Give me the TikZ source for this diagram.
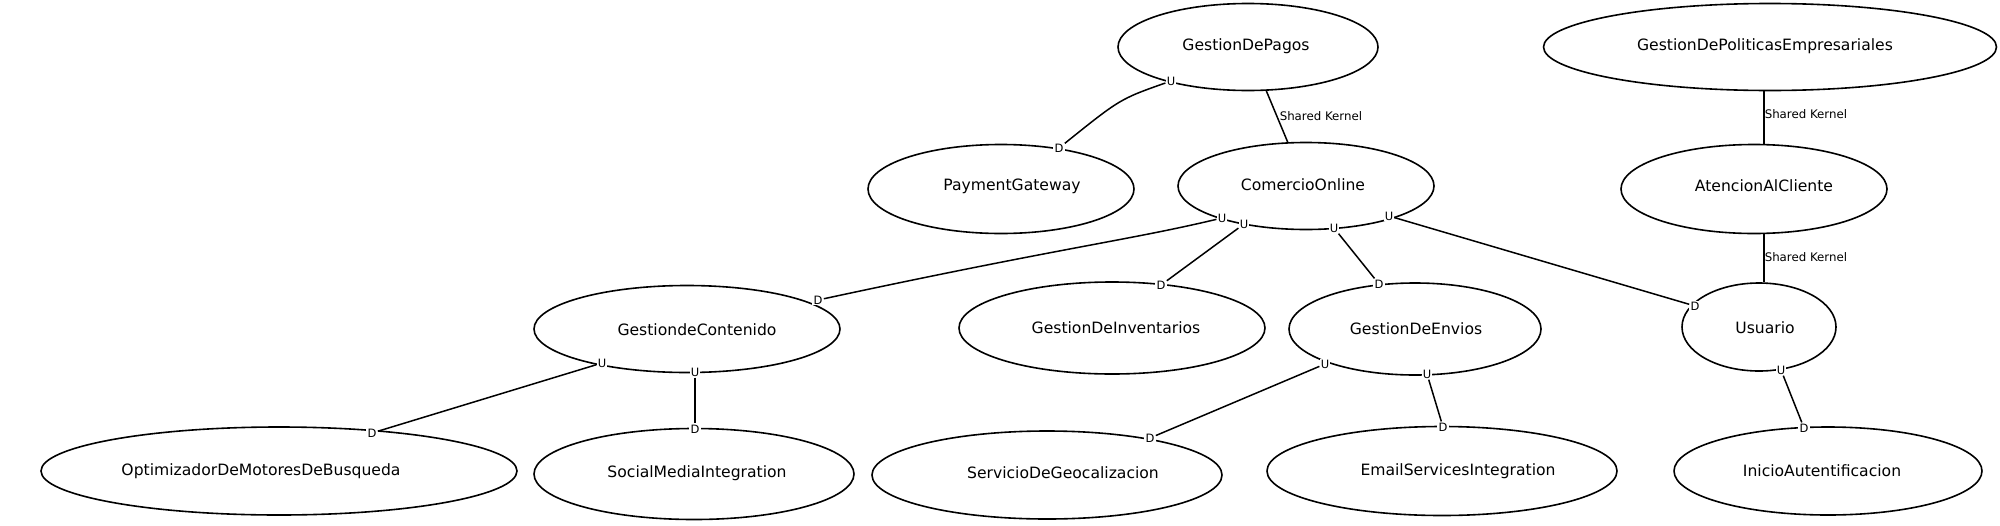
\documentclass[tikz,border=0pt]{standalone}
\usepackage{fontspec}
\setmainfont{DejaVu Sans}
\usetikzlibrary{shapes.geometric}
\begin{document}
\begin{tikzpicture}[x=1pt,y=-1pt,
  ctx/.style={ellipse, draw, line width=1.6pt, inner sep=0pt},
  txt/.style={inner sep=0pt, font=\fontsize{15.6}{18}\selectfont},
  ud/.style={fill=white, inner sep=1.2pt, font=\fontsize{11.5}{13}\selectfont},
  rel/.style={line width=1.5pt},
  sk/.style={font=\fontsize{11.8}{14}\selectfont, anchor=west, inner sep=0pt}]
\useasboundingbox[fill=white] (0,0) rectangle (2000,525);

% contexts
\node[ctx, minimum width=260pt, minimum height=87pt, label={[txt, xshift=-2pt, yshift=1pt]center:GestionDePagos}] (pagos) at (1248,47) {};
\node[ctx, minimum width=453pt, minimum height=87pt, label={[txt, xshift=-5pt, yshift=1pt]center:GestionDePoliticasEmpresariales}] (pol) at (1770,47) {};
\node[ctx, minimum width=266pt, minimum height=89pt, label={[txt, xshift=11pt, yshift=3pt]center:PaymentGateway}] (pay) at (1001,189) {};
\node[ctx, minimum width=256pt, minimum height=87pt, label={[txt, xshift=-3pt, yshift=1pt]center:ComercioOnline}] (com) at (1306,186) {};
\node[ctx, minimum width=266pt, minimum height=89pt, label={[txt, xshift=10pt, yshift=3pt]center:AtencionAlCliente}] (aten) at (1754,189) {};
\node[ctx, minimum width=306pt, minimum height=87pt, label={[txt, xshift=10pt, yshift=-1pt]center:GestiondeContenido}] (cont) at (687,329) {};
\node[ctx, minimum width=306pt, minimum height=92pt, label={[txt, xshift=4pt]center:GestionDeInventarios}] (inv) at (1112,328) {};
\node[ctx, minimum width=252pt, minimum height=92pt, label={[txt, xshift=1pt]center:GestionDeEnvios}] (env) at (1415,329) {};
\node[ctx, minimum width=154pt, minimum height=88pt, label={[txt, xshift=6pt, yshift=-1pt]center:Usuario}] (usu) at (1759,327) {};
\node[ctx, minimum width=476pt, minimum height=88pt, label={[txt, xshift=-18pt]center:OptimizadorDeMotoresDeBusqueda}] (opt) at (279,471) {};
\node[ctx, minimum width=320pt, minimum height=91pt, label={[txt, xshift=3pt, yshift=1pt]center:SocialMediaIntegration}] (soc) at (694,474) {};
\node[ctx, minimum width=350pt, minimum height=88pt, label={[txt, xshift=16pt, yshift=2pt]center:ServicioDeGeocalizacion}] (geo) at (1047,475) {};
\node[ctx, minimum width=350pt, minimum height=89pt, label={[txt, xshift=16pt]center:EmailServicesIntegration}] (mail) at (1442,471) {};
\node[ctx, minimum width=308pt, minimum height=88pt, label={[txt, xshift=-6pt]center:InicioAutentificacion}] (ini) at (1828,471) {};

% U / D markers
\node[ud] (pagosU) at (1171,81) {U};
\node[ud] (payD) at (1059,148) {D};
\node[ud] (comU1) at (1222,218) {U};
\node[ud] (comU2) at (1244,224) {U};
\node[ud] (comU3) at (1334,228) {U};
\node[ud] (comU4) at (1389,216) {U};
\node[ud] (contD) at (818,300) {D};
\node[ud] (invD) at (1161,285) {D};
\node[ud] (envD) at (1379,284) {D};
\node[ud] (usuD) at (1695,306) {D};
\node[ud] (contU1) at (602,363) {U};
\node[ud] (contU2) at (695,372) {U};
\node[ud] (optD) at (372,433) {D};
\node[ud] (socD) at (695,429) {D};
\node[ud] (envU1) at (1325,364) {U};
\node[ud] (envU2) at (1427,374) {U};
\node[ud] (geoD) at (1150,438) {D};
\node[ud] (mailD) at (1443,427) {D};
\node[ud] (usuU) at (1781,370) {U};
\node[ud] (iniD) at (1804,428) {D};

% relations
\draw[rel] (pagosU) .. controls (1120,99) .. (payD);
\draw[rel] (pagos) -- (com) node[sk, midway, xshift=2pt] {Shared Kernel};
\draw[rel] (comU1) .. controls (1130,240) and (1060,248) .. (contD);
\draw[rel] (comU2) -- (invD);
\draw[rel] (comU3) -- (envD);
\draw[rel] (comU4) -- (usuD);
\draw[rel] (contU1) -- (optD);
\draw[rel] (contU2) -- (socD);
\draw[rel] (envU1) -- (geoD);
\draw[rel] (envU2) -- (mailD);
\draw[rel] (usuU) -- (iniD);
\coordinate (skx) at (1764,0);
\draw[rel] (pol.south -| skx) -- (aten.north -| skx) node[sk, midway, yshift=3pt] {Shared Kernel};
\draw[rel] (aten.south -| skx) -- (usu.north -| skx) node[sk, midway, yshift=1pt] {Shared Kernel};
\end{tikzpicture}
\end{document}
